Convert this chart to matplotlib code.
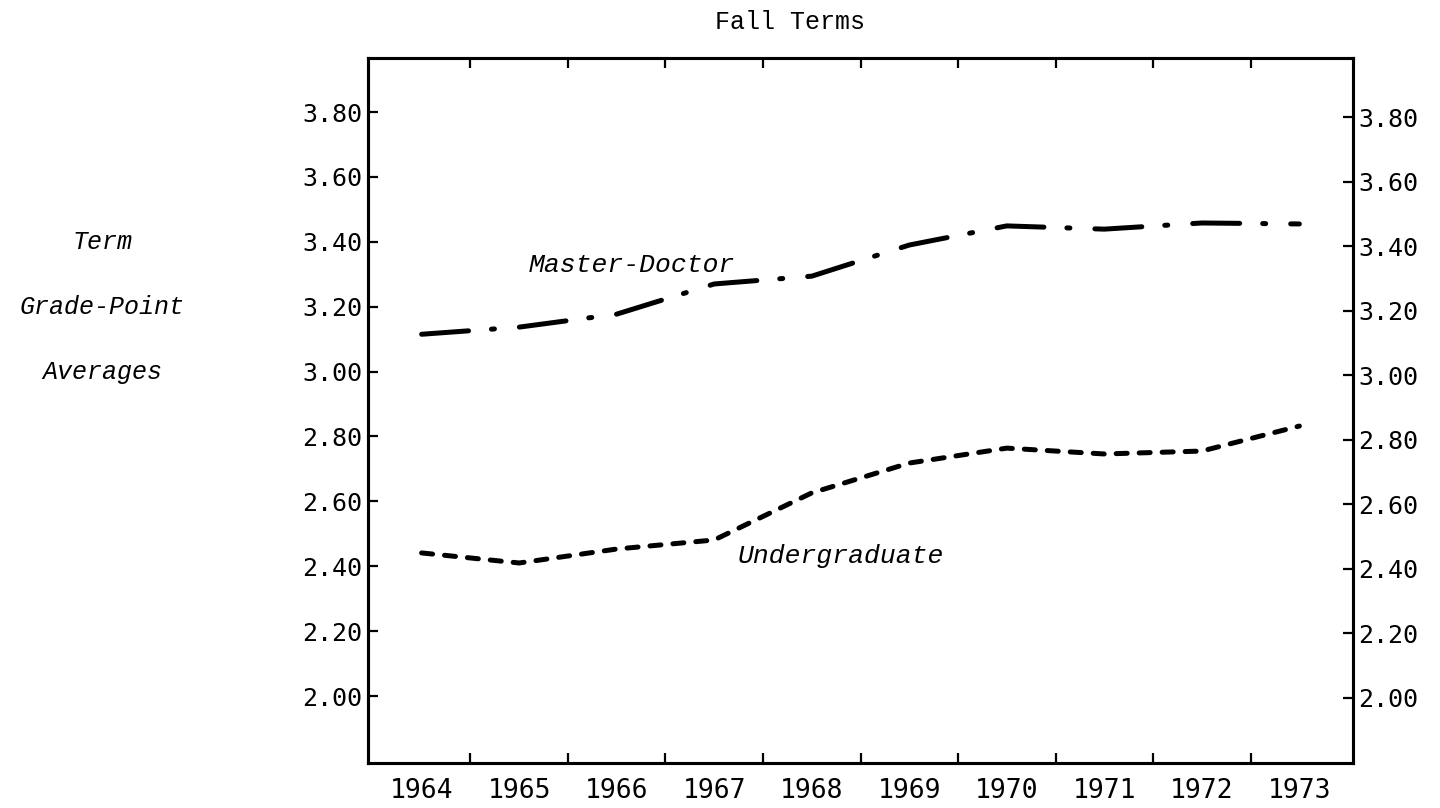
import matplotlib.pyplot as plt

years = [1964, 1965, 1966, 1967, 1968, 1969, 1970, 1971, 1972, 1973]
master_doctor = [3.115, 3.137, 3.177, 3.270, 3.294, 3.390, 3.449, 3.439, 3.458, 3.455]
undergraduate = [2.441, 2.410, 2.453, 2.481, 2.626, 2.718, 2.764, 2.746, 2.755, 2.832]
gpa_ticks = [2.00, 2.20, 2.40, 2.60, 2.80, 3.00, 3.20, 3.40, 3.60, 3.80]
ylabel_lines = ["Term", "Grade-Point", "Averages"]
title = "Fall Terms"

mono = "DejaVu Sans Mono"
typewriter = "Liberation Mono"

fig = plt.figure(figsize=(14.4, 8.08), dpi=100)
ax = fig.add_axes([368 / 1440, 1 - 763 / 808, (1353 - 368) / 1440, (763 - 58) / 808])

# lines
ax.plot(years, master_doctor, color="black", lw=3.6,
        dashes=(9.4, 4.6, 0.6, 5.0), dash_capstyle="round")
ax.plot(years, undergraduate, color="black", lw=3.6,
        dashes=(2.2, 2.4), dash_capstyle="round")

ax.text(1965.1, 3.33, "Master-Doctor", fontsize=19, family=typewriter,
        style="italic", va="center", ha="left")
ax.text(1967.24, 2.43, "Undergraduate", fontsize=19, family=typewriter,
        style="italic", va="center", ha="left")

ax.set_xlim(1963.45, 1973.55)
ax.set_ylim(1.7935, 3.9665)

# x: ticks between years, labels under year centres
ax.set_xticks([y + 0.5 for y in years[:-1]])
ax.set_xticklabels([])
ax.set_xticks(years, minor=True)
ax.set_xticklabels([str(y) for y in years], minor=True, fontsize=19, family=mono)
ax.tick_params(axis="x", which="major", direction="in", length=7, width=1.6,
               top=True, bottom=True)
ax.tick_params(axis="x", which="minor", length=0, pad=11)

ax.set_yticks(gpa_ticks)
ax.set_yticklabels([f"{v:.2f}" for v in gpa_ticks], fontsize=18, family=mono)
ax.tick_params(axis="y", direction="in", length=7, width=1.6, pad=4,
               left=True, right=False)

# right-hand scale was typed a little lower than the left one
axr = ax.twinx()
axr.set_ylim(1.7986, 3.9828)
axr.set_yticks(gpa_ticks)
axr.set_yticklabels([f"{v:.2f}" for v in gpa_ticks], fontsize=18, family=mono)
axr.tick_params(axis="y", direction="in", length=7, width=1.6, pad=4)

for a in (ax, axr):
    for s in a.spines.values():
        s.set_linewidth(2.2)

fig.text(790 / 1440, 1 - 22 / 808, title, fontsize=18, family=typewriter,
         ha="center", va="center")
for i, line in enumerate(ylabel_lines):
    yv = [3.40, 3.20, 3.00][i]
    ax.text(-0.27, yv, line, transform=ax.get_yaxis_transform(),
            fontsize=18, family=typewriter, style="italic",
            ha="center", va="center")

fig.savefig("out.png", dpi=100)
